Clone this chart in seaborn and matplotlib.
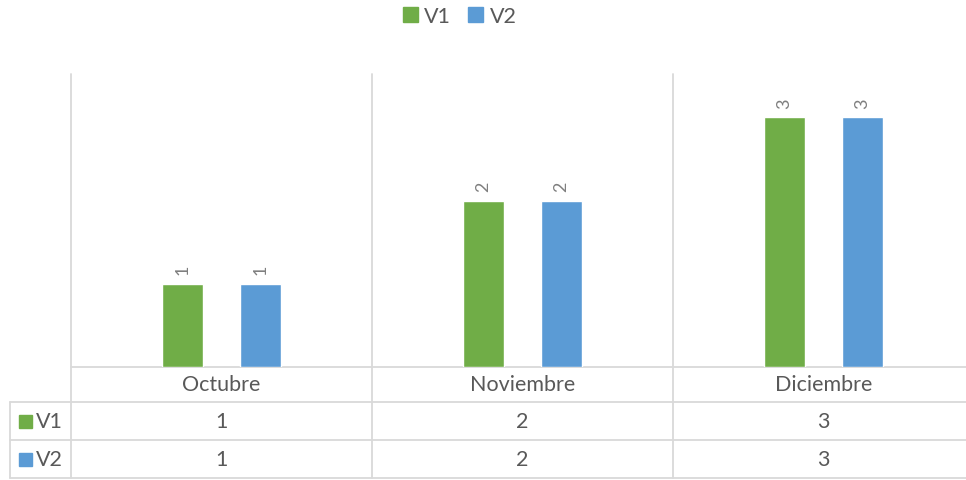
import numpy as np
import pandas as pd
import seaborn as sns
import matplotlib.pyplot as plt
from matplotlib.patches import Rectangle

# chart data
months = ["Octubre", "Noviembre", "Diciembre"]
series = ["V1", "V2"]
v1 = [1, 2, 3]
v2 = [1, 2, 3]
colors = ["#70AD47", "#5B9BD5"]

df = pd.DataFrame({
    "Mes": months * 2,
    "Serie": ["V1"] * len(months) + ["V2"] * len(months),
    "Valor": v1 + v2,
})

sns.set_style("white")
plt.rcParams["font.family"] = ["Lato", "DejaVu Sans"]
text_color = "#595959"
grid_color = "#D9D9D9"
fs = 15.5

W, H = 966, 481
L, R, T, B = 71, 974, 75, 368
fig = plt.figure(figsize=(W / 100, H / 100), dpi=100)
ax = fig.add_axes([L / W, 1 - B / H, (R - L) / W, (B - T) / H])
ax.patch.set_alpha(0)

sns.barplot(data=df, x="Mes", y="Valor", hue="Serie", palette=colors,
            width=0.52, gap=0.477, saturation=1, errorbar=None,
            legend=False, ax=ax)
ax.set_xlim(-0.5, len(months) - 0.5)
ax.set_ylim(0, 3.52)
for s in ax.spines.values():
    s.set_visible(False)
ax.set_xticks([])
ax.set_yticks([])
ax.set_xlabel("")
ax.set_ylabel("")

for c in ax.containers:
    ax.bar_label(c, fmt="%g", rotation=90, padding=7, color="#7F7F7F", fontsize=13)

# legend on top
handles = [Rectangle((0, 0), 1, 1, color=col) for col in colors]
fig.legend(handles, series, loc="upper center", bbox_to_anchor=(0.476, 1.025),
           ncol=2, frameon=False, handlelength=0.7, handleheight=0.7,
           handletextpad=0.3, columnspacing=0.8, fontsize=fs,
           labelcolor=text_color)

# data table below the plot, drawn in pixel coords
tab = fig.add_axes([0, 0, 1, 1], zorder=-1)
tab.set_xlim(0, W)
tab.set_ylim(H, 0)
tab.axis("off")

col_w = (R - L) / len(months)
col_x = [L + i * col_w for i in range(len(months) + 1)]
rows_y = [B, 403, 441, 479]
lw = 1.3

for x in col_x:
    tab.plot([x, x], [T, rows_y[-1]], color=grid_color, lw=lw)
tab.plot([10, 10], [rows_y[1], rows_y[-1]], color=grid_color, lw=lw)
tab.plot([L, R], [B, B], color=grid_color, lw=lw)
for y in rows_y[1:]:
    tab.plot([10, R], [y, y], color=grid_color, lw=lw)

for i, m in enumerate(months):
    cx = col_x[i] + col_w / 2
    tab.text(cx, (rows_y[0] + rows_y[1]) / 2, m, ha="center", va="center",
             fontsize=fs, color=text_color)
    for r, vals in enumerate([v1, v2]):
        tab.text(cx, (rows_y[r + 1] + rows_y[r + 2]) / 2, f"{vals[i]}",
                 ha="center", va="center", fontsize=fs, color=text_color)

for r, (name, col) in enumerate(zip(series, colors)):
    cy = (rows_y[r + 1] + rows_y[r + 2]) / 2
    tab.add_patch(Rectangle((19, cy - 6.5), 13, 13, color=col))
    tab.text(36, cy, name, ha="left", va="center", fontsize=fs, color=text_color)

fig.savefig("out.png", dpi=100)
